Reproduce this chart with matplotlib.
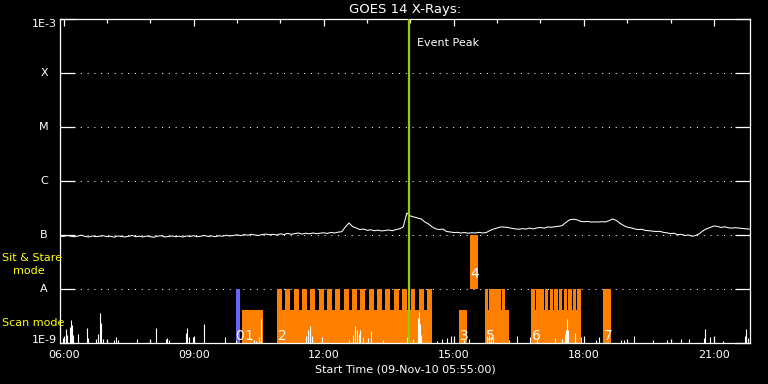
import numpy as np
import matplotlib
matplotlib.use("Agg")
import matplotlib.pyplot as plt
from matplotlib.ticker import FixedLocator, NullLocator

# ---------------- data ----------------
t_start = 5 + 55 / 60.0      # 05:55
t_end = 21 + 50 / 60.0       # 21:50
lc_step_min = 5

# GOES long channel flux, units of 1e-8 W/m^2, one value every 5 min from 05:55
lc_flux_e8 = [
    9.6, 9.4, 9.8, 9.5, 9.3, 9.6, 9.9, 9.4, 9.2, 9.6, 9.3, 9.5,
    9.7, 9.3, 9.5, 9.1, 9.6, 9.4, 9.2, 9.5, 9.8, 9.3, 9.5, 9.2,
    9.6, 9.3, 9.1, 9.5, 9.7, 9.2, 9.4, 9.6, 9.3, 9.5, 9.2, 9.6,
    9.4, 9.7, 9.3, 9.5, 9.8, 9.4, 9.6, 9.3, 9.7, 9.5, 9.9, 9.6,
    9.8, 10.1, 9.7, 10.2, 9.9, 10.3, 10.0, 9.8, 10.2, 10.4, 10.1, 10.3,
    10.0, 10.5, 10.2, 10.7, 10.3, 10.6, 10.9, 10.4, 10.8, 10.5, 10.9, 10.6,
    10.8, 11.0, 10.7, 11.2, 10.9, 11.3, 11.5, 14.1, 16.7, 14.3, 13.5, 12.6,
    12.9, 12.2, 12.5, 12.0, 12.3, 11.9, 12.1, 12.4, 12.0, 12.6, 13.0, 14.1,
    25.5, 22.5, 21.5, 20.6, 19.8, 17.4, 16.0, 14.1, 13.0, 12.6, 12.9, 11.6,
    11.4, 11.1, 11.2, 10.9, 11.1, 10.8, 11.0, 10.9, 11.2, 10.9, 11.1, 12.1,
    12.9, 13.5, 14.1, 14.0, 13.8, 13.3, 13.0, 12.8, 13.1, 12.9, 13.4, 13.0,
    13.5, 13.8, 13.4, 14.1, 13.9, 14.2, 14.5, 15.0, 17.0, 19.0, 19.6, 19.2,
    18.0, 17.6, 17.8, 17.4, 17.5, 17.4, 17.6, 17.5, 18.4, 19.8, 18.6, 16.5,
    15.0, 14.0, 13.6, 13.0, 12.6, 12.8, 12.2, 12.0, 11.8, 11.6, 11.7, 11.2,
    11.0, 10.6, 10.8, 10.1, 10.3, 9.8, 10.0, 9.5, 9.8, 10.6, 12.0, 13.1,
    13.8, 14.7, 14.4, 13.8, 14.2, 13.6, 13.4, 13.7, 13.4, 13.2, 13.0, 12.8,
]

# short channel spikes above the 1E-9 floor (hour of day, flux in 1e-9 W/m^2)
spike_hours = [
    5.986, 6.055, 6.078, 6.147, 6.170, 6.193, 6.217, 6.332, 6.540, 6.563,
    6.747, 6.794, 6.840, 6.863, 6.909, 7.000, 7.163, 7.209, 7.255, 7.694,
    7.994, 8.132, 8.363, 8.386, 8.432, 8.824, 8.847, 8.894, 8.986, 9.240,
    9.724, 9.978, 10.394, 10.440, 10.509, 10.555, 11.594, 11.640, 11.686, 11.732,
    11.963, 12.586, 12.678, 12.724, 12.770, 12.817, 12.840, 12.909, 13.024, 13.093,
    13.370, 13.924, 14.063, 14.178, 14.201, 14.224, 14.247, 14.617, 14.732, 14.847,
    14.940, 15.240, 15.355, 15.770, 15.817, 15.863, 15.909, 16.278, 16.463, 16.763,
    16.925, 17.340, 17.502, 17.571, 17.594, 17.617, 17.640, 17.802, 17.940, 18.286,
    18.355, 18.863, 18.932, 19.163, 19.601, 19.924, 20.248, 20.432, 20.778, 20.801,
    20.917, 21.217, 21.724, 21.747, 21.794,
]
spike_flux_e9 = [
    1.24, 1.82, 1.41, 1.98, 2.67, 2.15, 1.41, 1.47, 1.90, 1.24,
    1.19, 1.47, 3.59, 2.35, 1.19, 1.14, 1.14, 1.29, 1.14, 1.19,
    1.14, 1.90, 1.19, 1.24, 1.14, 1.53, 1.90, 1.29, 1.29, 2.25,
    1.29, 1.14, 1.14, 1.08, 1.29, 2.78, 1.35, 1.74, 2.06, 1.35,
    1.29, 1.14, 1.41, 2.06, 1.74, 1.47, 1.74, 1.29, 1.24, 1.67,
    1.14, 1.29, 1.19, 2.90, 3.75, 2.25, 1.41, 1.10, 1.19, 1.24,
    1.35, 1.14, 1.19, 1.35, 1.41, 1.29, 1.24, 1.14, 1.35, 1.29,
    1.24, 1.24, 1.19, 1.47, 1.74, 2.78, 1.74, 1.53, 1.29, 1.14,
    1.29, 1.14, 1.14, 1.35, 1.14, 1.14, 1.19, 1.19, 1.24, 1.82,
    1.29, 1.08, 1.35, 1.82, 1.24,
]

level_names = ["1E-3", "X", "M", "C", "B", "A", "1E-9"]
level_values = [1e-3, 1e-4, 1e-5, 1e-6, 1e-7, 1e-8, 1e-9]

xtick_hours = [6, 9, 12, 15, 18, 21]
xtick_labels = ["06:00", "09:00", "12:00", "15:00", "18:00", "21:00"]
xminor_hours = [7, 8, 10, 11, 13, 14, 16, 17, 19, 20]

# observation modes (hours)
blue_span = (9.978, 10.070)
scan_starts = [10.117, 10.925, 15.125, 15.725, 16.786]
scan_ends = [10.602, 14.502, 15.310, 16.279, 17.917]
tall_starts = [10.925, 11.117, 11.310, 11.502, 11.694, 11.887, 12.079, 12.271,
               12.463, 12.656, 12.848, 13.040, 13.233, 13.425, 13.617, 13.810,
               14.002, 14.194, 14.387,
               15.725, 15.824, 15.916, 16.008, 16.110,
               16.786, 16.895, 16.994, 17.102, 17.209, 17.317, 17.417, 17.532,
               17.633, 17.740, 17.841,
               18.448]
tall_widths = [0.115] * 19 + [0.076] * 5 + [0.083] * 11 + [0.185]
sit_span = (15.379, 15.563)
scan_top = 4e-9
tall_top = 1e-8
sit_top = 1e-7

label_text = ["0", "1", "2", "3", "4", "5", "6", "7"]
label_hours = [9.960, 10.180, 10.935, 15.135, 15.385, 15.745, 16.796, 18.455]
label_flux = [1.14e-9, 1.14e-9, 1.14e-9, 1.14e-9, 1.6e-8, 1.14e-9, 1.14e-9, 1.14e-9]

event_hour = 13.97

# ---------------- style ----------------
BG = "black"
FG = "white"
ORANGE = "#FF8000"
BLUE = "#6666FF"
GREEN = "#99CC00"
YELLOW = "#FFFF00"
FS = 8

W, H, DPI = 768, 384, 100
fig = plt.figure(figsize=(W / DPI, H / DPI), dpi=DPI, facecolor=BG)
ax = fig.add_axes([60 / W, 41 / H, 690 / W, 324 / H], facecolor=BG)
ax.set_yscale("log")
ax.set_xlim(t_start, t_end)
ax.set_ylim(level_values[-1], level_values[0])

for s in ax.spines.values():
    s.set_color(FG)
    s.set_linewidth(0.9)

# dotted level lines
for v in level_values[1:-1]:
    ax.axhline(v, color=FG, lw=0.75, ls=(0, (1, 5.5)), zorder=1)

# mode bars
ax.bar(blue_span[0], tall_top - level_values[-1], width=blue_span[1] - blue_span[0],
       bottom=level_values[-1], align="edge", color=BLUE, lw=0, zorder=2)
for a, b in zip(scan_starts, scan_ends):
    ax.bar(a, scan_top - level_values[-1], width=b - a, bottom=level_values[-1],
           align="edge", color=ORANGE, lw=0, zorder=2)
ax.bar(tall_starts, [tall_top - level_values[-1]] * len(tall_starts), width=tall_widths,
       bottom=level_values[-1], align="edge", color=ORANGE, lw=0, zorder=2)
ax.bar(sit_span[0], sit_top - tall_top, width=sit_span[1] - sit_span[0],
       bottom=tall_top, align="edge", color=ORANGE, lw=0, zorder=2)

# short-channel spikes
ax.vlines(spike_hours, level_values[-1] * 0.5, np.array(spike_flux_e9) * 1e-9,
          color=FG, lw=0.8, zorder=3)

# long-channel light curve
lc_hours = t_start + np.arange(len(lc_flux_e8)) * lc_step_min / 60.0
ax.plot(lc_hours, np.array(lc_flux_e8) * 1e-8, color=FG, lw=0.75, zorder=3)

# event peak
ax.axvline(event_hour, color=GREEN, lw=1.6, zorder=4)
ax.annotate("Event Peak", xy=(event_hour, 0.926), xycoords=ax.get_xaxis_transform(),
            xytext=(5.5, 0), textcoords="offset points", color=FG, fontsize=FS,
            ha="left", va="center")

# mode numbers
for txt, xh, yv in zip(label_text, label_hours, label_flux):
    ax.text(xh, yv, txt, color=FG, fontsize=10, ha="left", va="baseline", zorder=5)

# y axis
ax.yaxis.set_major_locator(FixedLocator(level_values))
ax.yaxis.set_minor_locator(NullLocator())
ax.tick_params(axis="y", which="major", direction="in", length=10.5, width=0.9,
               color=FG, left=True, right=True, labelleft=False, labelright=False)
ytr = ax.get_yaxis_transform()
for name, v in zip(level_names, level_values):
    va = "center"
    if v == level_values[0]:
        va = "top"
    elif v == level_values[-1]:
        va = "baseline"
    ax.text(-16 / 690, v, name, transform=ytr, color=FG, fontsize=FS,
            ha="center", va=va, clip_on=False)

# x axis
ax.xaxis.set_major_locator(FixedLocator(xtick_hours))
ax.xaxis.set_minor_locator(FixedLocator(xminor_hours))
ax.set_xticklabels(xtick_labels)
ax.tick_params(axis="x", which="major", direction="in", length=5, width=0.9,
               color=FG, top=True, bottom=True, labelcolor=FG, labelsize=FS, pad=5)
ax.tick_params(axis="x", which="minor", direction="in", length=3, width=0.9,
               color=FG, top=True, bottom=True)
ax.set_xlabel("Start Time (09-Nov-10 05:55:00)", color=FG, fontsize=FS, labelpad=3)
ax.set_title("GOES 14 X-Rays:", color=FG, fontsize=9.5, pad=4)

# mode captions
fig.text(2 / W, 1 - 258 / H, "Sit & Stare", color=YELLOW, fontsize=FS,
         ha="left", va="center")
fig.text(13 / W, 1 - 271 / H, "mode", color=YELLOW, fontsize=FS,
         ha="left", va="center")
fig.text(2 / W, 1 - 323.5 / H, "Scan mode", color=YELLOW, fontsize=FS,
         ha="left", va="center")

fig.savefig("out.png", dpi=DPI, facecolor=BG)
